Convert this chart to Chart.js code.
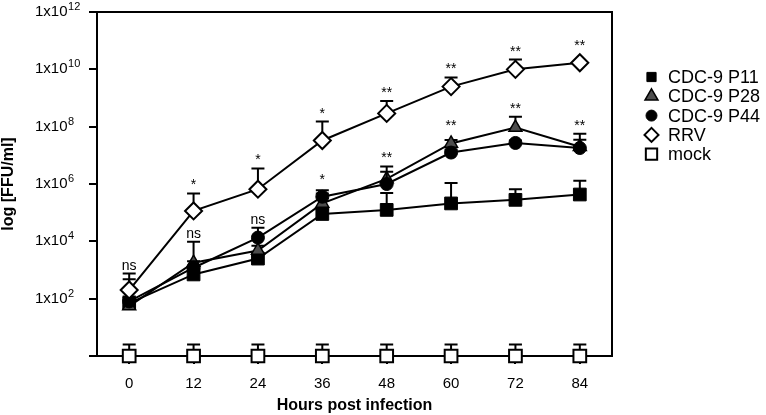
<!DOCTYPE html>
<html lang="en">
<head>
<meta charset="UTF-8">
<title>Growth curve CDC-9 / RRV</title>
<script src="https://cdn.jsdelivr.net/npm/chart.js"></script>
<style>
  body { margin: 0; background: #fff; }
</style>
</head>
<body>
<canvas id="chart" width="766" height="415"></canvas>
<script>
// hours post infection
var hours = [0, 12, 24, 36, 48, 60, 72, 84];
var xTicks = [0, 12, 24, 36, 48, 60, 72, 84];
var yTicks = [1, 1e2, 1e4, 1e6, 1e8, 1e10, 1e12];

// titres (FFU/ml), mean and top of error bar
var p11    = [70, 700, 2500, 9e4, 1.25e5, 2.1e5, 2.8e5, 4.3e5];
var p11Err = [480, 900, 3500, 1.3e5, 4.9e5, 1.08e6, 6.6e5, 1.3e6];
var p28    = [55, 1800, 4800, 2.1e5, 1.5e6, 2.6e7, 9.3e7, 2.0e7];
var p28Err = [90, 9.6e3, 7000, 4.7e5, 4.1e6, 3.4e7, 2.2e8, 5.7e7];
var p44    = [80, 1200, 1.35e4, 3.6e5, 1.0e6, 1.25e7, 2.7e7, 1.8e7];
var p44Err = [120, 2000, 3e4, 6e5, 2.7e6, 1.6e7, 3.3e7, 3.5e7];
var rrv    = [200, 1.15e5, 6.6e5, 3.3e7, 2.9e8, 2.5e9, 1.0e10, 1.7e10];
var rrvErr = [750, 4.7e5, 3.5e6, 1.5e8, 7.9e8, 5.2e9, 2.2e10, 1.9e10];
var mock    = [1, 1, 1, 1, 1, 1, 1, 1];
var mockErr = [2.5, 2.5, 2.5, 2.5, 2.5, 2.5, 2.5, 2.5];

// significance marks
var sigRRV = ['ns', '*', '*', '*', '**', '**', '**', '**'];
var sigCDC = ['', 'ns', 'ns', '*', '**', '**', '**', '**'];

var FONT = '"Liberation Sans", Arial, sans-serif';

function pts(vals) {
    return hours.map((h, i) => ({x: h, y: vals[i]}));
}

Chart.defaults.font.family = FONT;
Chart.defaults.color = '#000';

var errorBars = {
    id: 'errorBars',
    beforeDatasetDraw(chart, args) {
        var ds = chart.data.datasets[args.index];
        if (!ds.errTop) return;
        var ctx = chart.ctx, y = chart.scales.y;
        ctx.save();
        ctx.strokeStyle = '#000';
        ctx.lineWidth = 2;
        args.meta.data.forEach((pt, i) => {
            var top = y.getPixelForValue(ds.errTop[i]);
            ctx.beginPath();
            ctx.moveTo(pt.x, pt.y);
            ctx.lineTo(pt.x, top);
            ctx.moveTo(pt.x - 6.5, top);
            ctx.lineTo(pt.x + 6.5, top);
            ctx.stroke();
        });
        ctx.restore();
    }
};

var frame = {
    id: 'frame',
    beforeDatasetsDraw(chart) {
        var ctx = chart.ctx, a = chart.chartArea;
        ctx.save();
        ctx.strokeStyle = '#000';
        ctx.lineWidth = 2;
        ctx.beginPath();
        ctx.moveTo(a.left, a.top);
        ctx.lineTo(a.right, a.top);
        ctx.lineTo(a.right, a.bottom);
        ctx.stroke();
        ctx.restore();
    }
};

// exponent of the "1x10" tick labels
var exponents = {
    id: 'exponents',
    afterDraw(chart) {
        var ctx = chart.ctx, y = chart.scales.y;
        ctx.save();
        ctx.font = '15px ' + FONT;
        var w = ctx.measureText('1x10').width;
        ctx.font = '11px ' + FONT;
        ctx.fillStyle = '#000';
        ctx.textAlign = 'left';
        ctx.textBaseline = 'middle';
        y.ticks.forEach(t => {
            if (t.value === 1) return;
            var e = Math.round(Math.log10(t.value));
            ctx.fillText(String(e), y.left + w + 0.5, y.getPixelForValue(t.value) - 5);
        });
        ctx.restore();
    }
};

var sigLabels = {
    id: 'sigLabels',
    afterDatasetsDraw(chart) {
        var ctx = chart.ctx, x = chart.scales.x, y = chart.scales.y;
        var groups = [
            {labels: sigRRV, sets: [[rrv, rrvErr]]},
            {labels: sigCDC, sets: [[p11, p11Err], [p28, p28Err], [p44, p44Err]]}
        ];
        ctx.save();
        ctx.font = '14px ' + FONT;
        ctx.fillStyle = '#000';
        ctx.textAlign = 'center';
        ctx.textBaseline = 'alphabetic';
        groups.forEach(g => {
            hours.forEach((h, i) => {
                if (!g.labels[i]) return;
                var top = Infinity;
                g.sets.forEach(s => {
                    top = Math.min(top, y.getPixelForValue(s[1][i]), y.getPixelForValue(s[0][i]) - 9);
                });
                ctx.fillText(g.labels[i], x.getPixelForValue(h), top - 4);
            });
        });
        ctx.restore();
    }
};

var sideLegend = {
    id: 'sideLegend',
    afterDraw(chart) {
        var ctx = chart.ctx;
        var sizes = [6.5, 7.5, 5.5, 7, 8];
        ctx.save();
        ctx.font = '18px ' + FONT;
        ctx.textBaseline = 'middle';
        ctx.textAlign = 'left';
        chart.data.datasets.forEach((ds, row) => {
            var cy = 77 + row * 19.3;
            ctx.fillStyle = ds.pointBackgroundColor;
            ctx.strokeStyle = '#000';
            ctx.lineWidth = ds.pointBorderWidth;
            Chart.helpers.drawPoint(ctx, {pointStyle: ds.pointStyle, radius: sizes[row], borderWidth: ds.pointBorderWidth, rotation: 0}, 651.5, cy);
            ctx.fillStyle = '#000';
            ctx.fillText(ds.label, 668, cy + 1);
        });
        ctx.restore();
    }
};

function series(label, vals, err, style, radius, fill, bw, order) {
    return {
        label: label,
        data: pts(vals),
        errTop: err,
        order: order,
        borderColor: '#000',
        borderWidth: 2,
        pointStyle: style,
        pointRadius: radius,
        pointBackgroundColor: fill,
        pointBorderColor: '#000',
        pointBorderWidth: bw,
        tension: 0,
        clip: false
    };
}

new Chart(document.getElementById('chart'), {
    type: 'line',
    data: {
        datasets: [
            series('CDC-9 P11', p11, p11Err, 'rect', 9, '#000', 1, 3),
            series('CDC-9 P28', p28, p28Err, 'triangle', 7.5, '#4d4d4d', 1.5, 2),
            series('CDC-9 P44', p44, p44Err, 'circle', 6.5, '#000', 1, 1),
            series('RRV', rrv, rrvErr, 'rectRot', 8.5, '#fff', 2, 0),
            series('mock', mock, mockErr, 'rect', 9, '#fff', 2, 4)
        ]
    },
    options: {
        responsive: false,
        animation: false,
        events: [],
        layout: { padding: { left: 35, top: 5, right: 154, bottom: 0 } },
        plugins: { legend: { display: false }, tooltip: { enabled: false } },
        scales: {
            x: {
                type: 'linear',
                min: -6,
                max: 90,
                afterBuildTicks: s => { s.ticks = xTicks.map(v => ({value: v})); },
                afterFit: s => { s.height = 59; },
                grid: { drawOnChartArea: false, drawTicks: true, tickLength: 8, color: '#000', lineWidth: 2 },
                border: { color: '#000', width: 2 },
                ticks: { font: { size: 15 }, padding: 11, autoSkip: false, maxRotation: 0 },
                title: { display: true, text: 'Hours post infection', font: { size: 16, weight: 'bold' }, padding: 0 }
            },
            y: {
                type: 'logarithmic',
                min: 1,
                max: 1e12,
                afterBuildTicks: s => { s.ticks = yTicks.map(v => ({value: v})); },
                afterFit: s => { s.width = 62; },
                grid: { drawOnChartArea: false, drawTicks: true, tickLength: 8, color: '#000', lineWidth: 2 },
                border: { color: '#000', width: 2 },
                ticks: {
                    font: { size: 15 },
                    crossAlign: 'far',
                    autoSkip: false,
                    callback: v => v === 1 ? '' : '1x10'
                },
                title: { display: true, text: 'log [FFU/ml]', font: { size: 16, weight: 'bold' }, padding: { top: -35.6, bottom: 0 } }
            }
        }
    },
    plugins: [errorBars, frame, exponents, sigLabels, sideLegend]
});
</script>
</body>
</html>
